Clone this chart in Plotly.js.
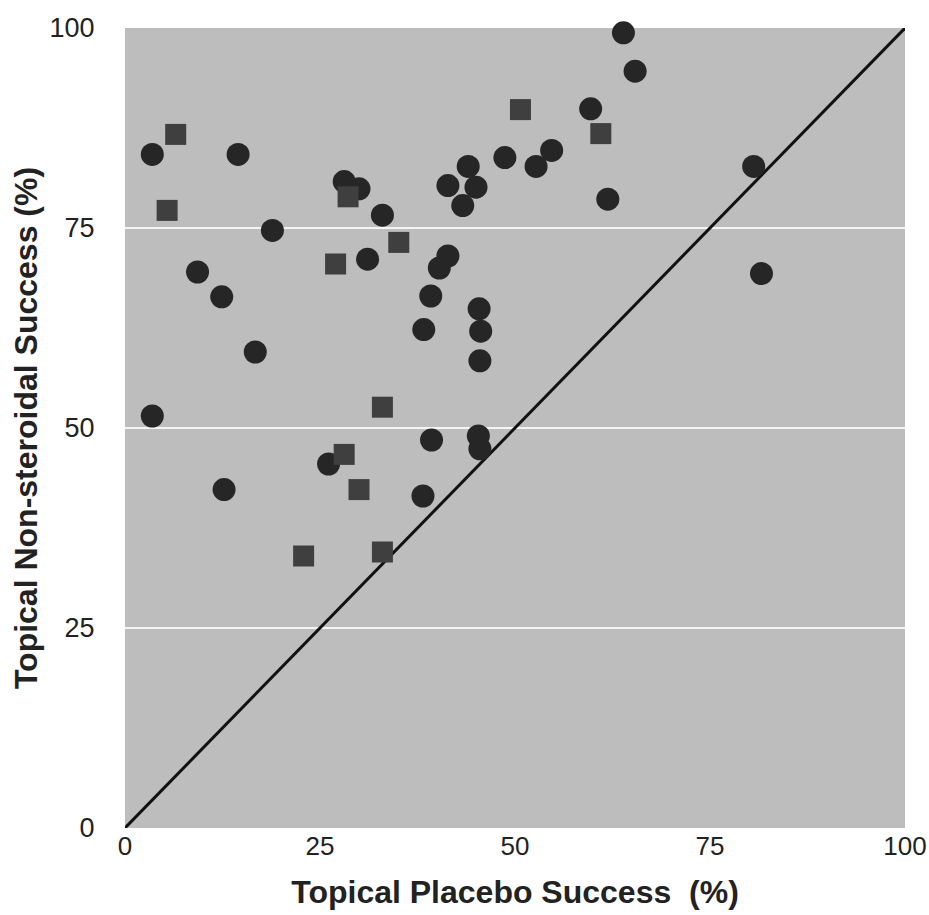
<!DOCTYPE html>
<html>
<head>
<meta charset="utf-8">
<script src="https://cdn.plot.ly/plotly-3.0.1.min.js"></script>
<style>html,body{margin:0;padding:0;background:#fff;}#chart{width:929px;height:915px;}</style>
</head>
<body>
<div id="chart"></div>
<script>
// Circles (one study group)
const circleX = [3.5, 3.5, 14.5, 18.9, 9.3, 12.4, 16.7, 12.7, 28.1, 30.0, 33.0, 31.1, 41.4, 44.0, 45.0, 43.3, 48.7, 41.4, 40.3, 39.2, 45.4, 38.3, 45.6, 45.5, 39.3, 45.3, 45.5, 26.1, 38.2, 63.9, 65.4, 59.7, 54.7, 52.7, 61.9, 80.6, 81.6];
const circleY = [84.2, 51.5, 84.2, 74.7, 69.5, 66.4, 59.5, 42.3, 80.8, 79.9, 76.6, 71.1, 80.3, 82.7, 80.1, 77.8, 83.8, 71.5, 70.0, 66.5, 64.9, 62.3, 62.1, 58.4, 48.5, 49.0, 47.4, 45.5, 41.5, 99.4, 94.6, 89.9, 84.7, 82.7, 78.6, 82.7, 69.3];
// Squares (other study group)
const squareX = [6.5, 5.4, 28.6, 35.1, 27.0, 50.7, 61.0, 33.0, 28.1, 30.0, 22.9, 33.0];
const squareY = [86.7, 77.2, 78.9, 73.2, 70.5, 89.8, 86.8, 52.6, 46.7, 42.3, 34.0, 34.5];
// Line of identity
const identityX = [0, 100];
const identityY = [0, 100];
const tickVals = [0, 25, 50, 75, 100];
const tickText = ['0', '25', '50', '75', '100'];

const traces = [
  {x: identityX, y: identityY, mode: 'lines', line: {color: '#111', width: 3}, hoverinfo: 'skip', showlegend: false, cliponaxis: false},
  {x: circleX, y: circleY, mode: 'markers', type: 'scatter', showlegend: false, cliponaxis: false,
   marker: {symbol: 'circle', size: 23, color: '#262626', line: {width: 0}}},
  {x: squareX, y: squareY, mode: 'markers', type: 'scatter', showlegend: false, cliponaxis: false,
   marker: {symbol: 'square', size: 21, color: '#3f3f3f', line: {width: 0}}}
];

const layout = {
  width: 929, height: 915,
  margin: {l: 125, r: 24, t: 28, b: 87},
  paper_bgcolor: '#ffffff',
  plot_bgcolor: '#bdbdbd',
  showlegend: false,
  xaxis: {
    range: [0, 100], tickvals: tickVals, ticktext: tickText,
    showgrid: false, zeroline: false, showline: false,
    ticks: '', ticklabelstandoff: 0,
    ticklabeloverflow: 'allow',
    tickfont: {family: 'Liberation Sans, Arial', size: 26, color: '#222'},
    title: {text: 'Topical Placebo Success  (%)', standoff: 20,
      font: {family: 'Liberation Sans, Arial', size: 32, color: '#222', weight: 'bold'}}
  },
  yaxis: {
    range: [0, 100], tickvals: tickVals, ticktext: tickText,
    showgrid: true, gridcolor: '#f4f4f4', gridwidth: 2, zeroline: false, showline: false,
    ticks: 'outside', ticklen: 24, tickcolor: 'rgba(0,0,0,0)',
    tickfont: {family: 'Liberation Sans, Arial', size: 27, color: '#222'},
    title: {text: 'Topical Non-steroidal Success (%)', standoff: 2,
      font: {family: 'Liberation Sans, Arial', size: 32, color: '#222', weight: 'bold'}}
  }
};

Plotly.newPlot('chart', traces, layout, {staticPlot: true, displayModeBar: false});
</script>
</body>
</html>
